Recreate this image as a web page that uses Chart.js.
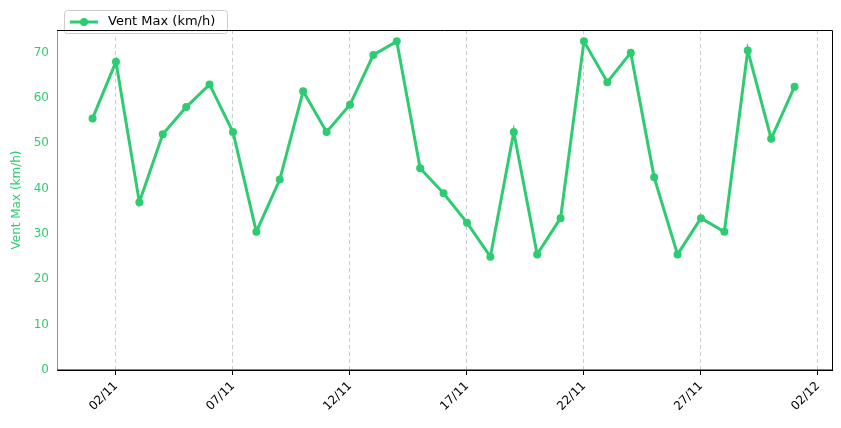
<!DOCTYPE html>
<html><head><meta charset="utf-8">
<script src="https://cdn.jsdelivr.net/npm/chart.js@4"></script>
<style>html,body{margin:0;padding:0;background:#fff}#wrap{width:841px;height:428px}</style>
</head><body><div id="wrap"><canvas id="c"></canvas></div>
<script>
// day index 0 = 01/11
const days = ['01/11','02/11','03/11','04/11','05/11','06/11','07/11','08/11','09/11','10/11','11/11','12/11','13/11','14/11','15/11','16/11','17/11','18/11','19/11','20/11','21/11','22/11','23/11','24/11','25/11','26/11','27/11','28/11','29/11','30/11','01/12'];
const windMax = [55.5,68,37,52,58,63,52.5,30.5,42,61.5,52.5,58.5,69.5,72.5,44.5,39,32.5,25,52.5,25.5,33.5,72.5,63.5,70,42.5,25.5,33.5,30.5,70.5,51,62.5];
const tickDays = [1,6,11,16,21,26,31];
const tickLabels = ['02/11','07/11','12/11','17/11','22/11','27/11','02/12'];
const yTicks = [0,10,20,30,40,50,60,70];
const green = '#2ecc71';

const legendPlugin = {
  id: 'legendBox',
  afterDraw(chart) {
    const ctx = chart.ctx;
    ctx.save();
    ctx.fillStyle = 'rgba(255,255,255,0.85)';
    ctx.strokeStyle = '#ccc';
    ctx.lineWidth = 1;
    ctx.beginPath();
    ctx.roundRect(64.5, 10.5, 163, 23, 3);
    ctx.fill(); ctx.stroke();
    ctx.strokeStyle = green; ctx.lineWidth = 3;
    ctx.beginPath(); ctx.moveTo(70, 22); ctx.lineTo(98, 22); ctx.stroke();
    ctx.fillStyle = green;
    ctx.beginPath(); ctx.arc(84, 22, 4, 0, Math.PI * 2); ctx.fill();
    ctx.fillStyle = '#000';
    ctx.font = '13px "DejaVu Sans"';
    ctx.textBaseline = 'middle';
    ctx.fillText('Vent Max (km/h)', 108, 22);
    ctx.restore();
  }
};

new Chart(document.getElementById('c'), {
  type: 'line',
  data: {
    datasets: [{
      label: 'Vent Max (km/h)',
      data: windMax.map((v, i) => ({x: i, y: v})),
      borderColor: green,
      backgroundColor: green,
      borderWidth: 3,
      pointRadius: 4,
      pointBorderWidth: 0,
      pointHoverRadius: 4,
      tension: 0
    }]
  },
  options: {
    responsive: true,
    maintainAspectRatio: false,
    animation: false,
    layout: {padding: {top: 30, right: 9, left: 0, bottom: 0}},
    plugins: {legend: {display: false}, tooltip: {enabled: false}},
    scales: {
      x: {
        type: 'linear',
        min: -1.52, max: 31.6,
        afterBuildTicks(axis) { axis.ticks = tickDays.map(v => ({value: v})); },
        afterFit(axis) { axis.height = 58; },
        ticks: {
          color: '#000', font: {family: 'DejaVu Sans', size: 12}, padding: 4,
          minRotation: 45, maxRotation: 45,
          callback: (v) => tickLabels[tickDays.indexOf(v)] ?? ''
        },
        grid: {color: '#cccccc', drawTicks: true, tickColor: '#000', tickLength: 5},
        border: {color: '#000', dash: [4, 3]}
      },
      y: {
        min: 0, max: 75,
        afterBuildTicks(axis) { axis.ticks = yTicks.map(v => ({value: v})); },
        afterFit(axis) { axis.width = 57; },
        ticks: {color: green, font: {family: 'DejaVu Sans', size: 12}},
        grid: {display: false, drawTicks: true, tickColor: green, tickLength: 5},
        border: {color: green},
        title: {display: true, text: 'Vent Max (km/h)', color: green, font: {family: 'DejaVu Sans', size: 12}, padding: {top: 10, bottom: 0}}
      }
    }
  },
  plugins: [legendPlugin, {
    id: 'frame',
    afterDraw(chart) {
      const a = chart.chartArea, ctx = chart.ctx;
      ctx.save(); ctx.strokeStyle = '#000'; ctx.lineWidth = 1;
      ctx.beginPath();
      ctx.moveTo(a.left, a.top + 0.5); ctx.lineTo(a.right + 0.5, a.top + 0.5);
      ctx.lineTo(a.right + 0.5, a.bottom); ctx.lineTo(a.left, a.bottom);
      ctx.stroke(); ctx.restore();
    }
  }]
});
</script></body></html>
